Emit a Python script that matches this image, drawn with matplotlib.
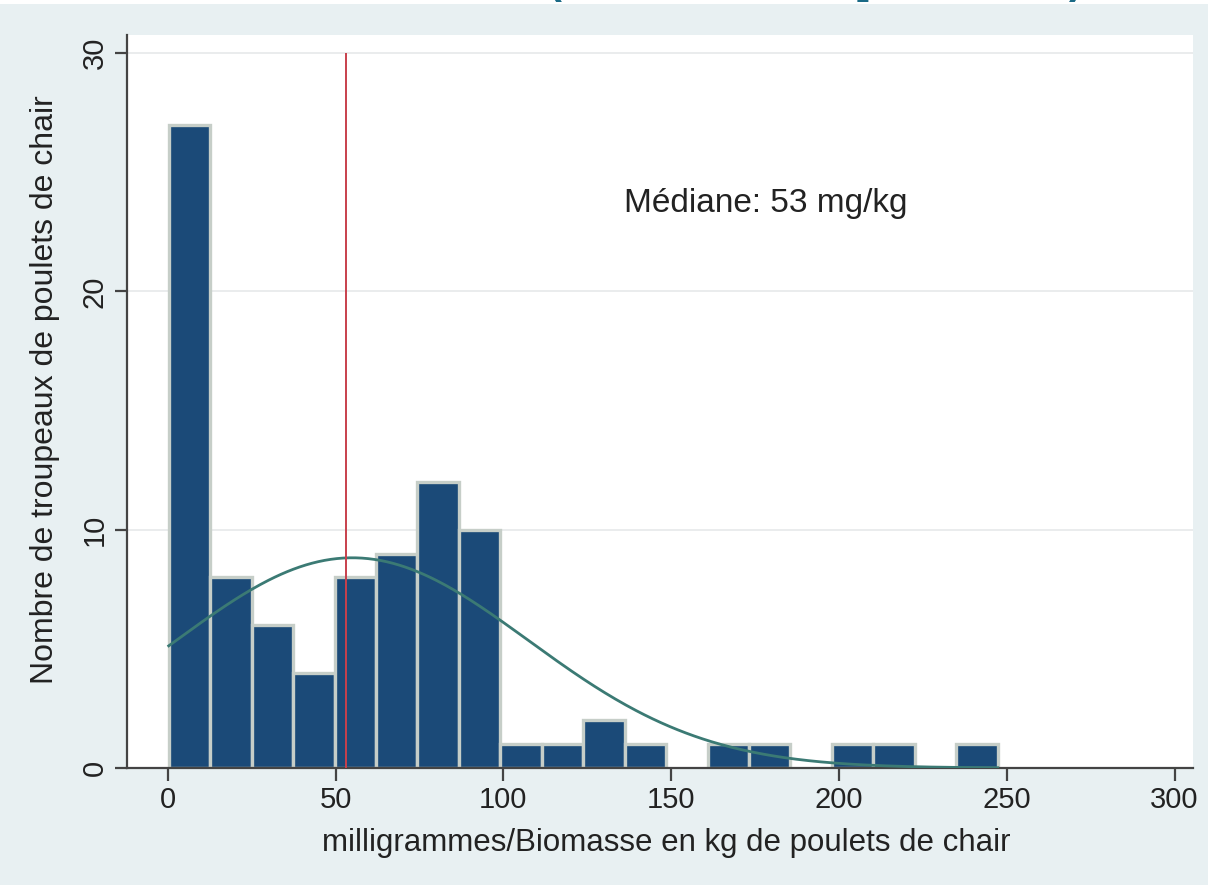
import numpy as np
import matplotlib
matplotlib.use("Agg")
import matplotlib.pyplot as plt
from matplotlib.patches import Rectangle

# Histogram of antimicrobial use per broiler flock (20 bins)
counts = [27, 8, 6, 4, 8, 9, 12, 10, 1, 1, 2, 1, 0, 1, 1, 0, 1, 1, 0, 1]
bin_start = 0.3
bin_width = 12.35

# Summary statistics
median_mg = 53
fit_mean = 55.0
fit_sd = 52.5

x_ticks = [0, 50, 100, 150, 200, 250, 300]
y_ticks = [0, 10, 20, 30]

x_label = "milligrammes/Biomasse en kg de poulets de chair"
y_label = "Nombre de troupeaux de poulets de chair"
median_label = "Médiane: 53 mg/kg"

plt.rcParams["font.family"] = ["Liberation Sans", "DejaVu Sans"]

BG = "#e8f0f2"
BAR = "#1b4a78"
BAR_EDGE = "#c6cec8"
CURVE = "#3b7a74"
RED = "#c8404c"
AXIS = "#444444"

fig = plt.figure(figsize=(12.08, 8.85), dpi=100, facecolor=BG)

# thin white strip and clipped heading glyphs along the top edge
fig.patches.append(Rectangle((0, 1 - 4 / 885), 1, 4 / 885, transform=fig.transFigure,
                             facecolor="white", edgecolor="none", zorder=0))
for gx, ch in [(555, "("), (862, "["), (1076, ")")]:
    fig.text(gx / 1208, 1 + 18 / 885, ch, color="#1a6a86", fontsize=30,
             fontweight="bold", ha="center", va="center", zorder=5)

ax = fig.add_axes([127 / 1208, 1 - 768 / 885, (1193 - 127) / 1208, (768 - 35) / 885])
ax.set_facecolor("white")

edges = bin_start + bin_width * np.arange(len(counts) + 1)
lefts = edges[:-1]
cnt = np.array(counts, dtype=float)
mask = cnt > 0
ax.bar(lefts[mask], cnt[mask], width=bin_width, align="edge", color=BAR,
       edgecolor=BAR_EDGE, linewidth=2.4, zorder=2)

# normal density scaled to frequencies
n_total = cnt.sum()
xs = np.linspace(edges[0], edges[-1], 400)
dens = n_total * bin_width / (fit_sd * np.sqrt(2 * np.pi)) * np.exp(-0.5 * ((xs - fit_mean) / fit_sd) ** 2)
ax.plot(xs, dens, color=CURVE, linewidth=2.0, zorder=3)

# median marker
ax.vlines(median_mg, 0, 30, color=RED, linewidth=1.4, zorder=4)
ax.text(136, 23.7, median_label, fontsize=24, color="#222222", ha="left", va="center")

ax.set_xlim(-12.13, 305.5)
ax.set_ylim(0, 30.76)

ax.set_yticks(y_ticks)
ax.set_xticks(x_ticks)
ax.yaxis.grid(True, color="#e6e9ea", linewidth=1.2)
ax.set_axisbelow(True)

for s in ["top", "right"]:
    ax.spines[s].set_visible(False)
for s in ["left", "bottom"]:
    ax.spines[s].set_color(AXIS)
    ax.spines[s].set_linewidth(1.6)

ax.tick_params(axis="both", direction="out", length=9, width=1.6, color=AXIS,
               labelsize=21, labelcolor="#222222")
ax.tick_params(axis="x", pad=4)
ax.tick_params(axis="y", pad=4)
for lab in ax.get_yticklabels():
    lab.set_rotation(90)
    lab.set_va("center")

ax.set_xlabel(x_label, fontsize=22.5, color="#222222")
ax.set_ylabel(y_label, fontsize=23, color="#222222")
ax.xaxis.set_label_coords(0.5056, -0.082)
ax.yaxis.set_label_coords(-0.063, 0.516)

fig.savefig("out.png", dpi=100, facecolor=BG)
